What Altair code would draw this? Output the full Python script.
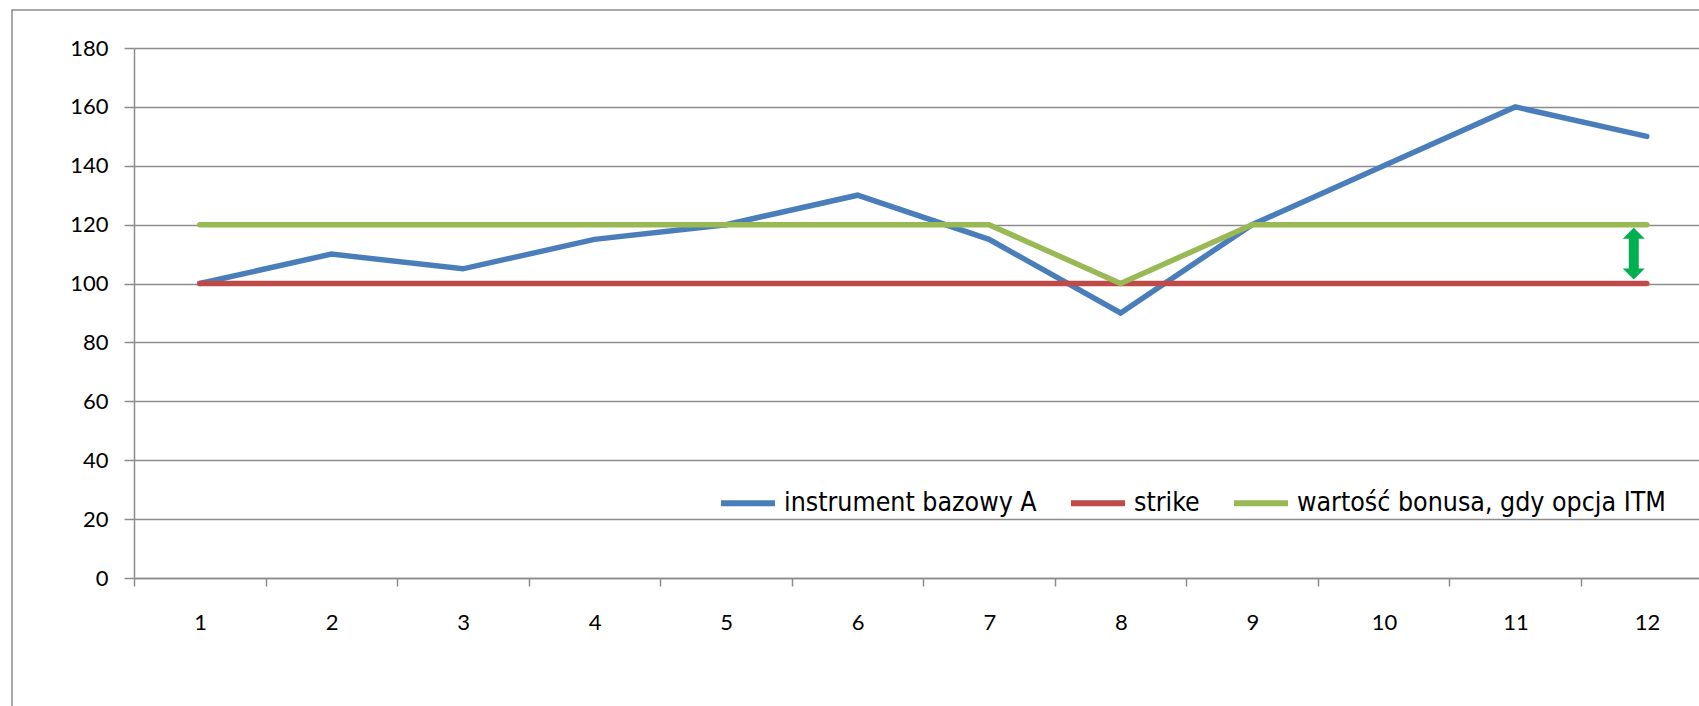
import altair as alt
import pandas as pd

# Periods on the x axis
periods = [1, 2, 3, 4, 5, 6, 7, 8, 9, 10, 11, 12]

# Series values
underlying = [100, 110, 105, 115, 120, 130, 115, 90, 120, 140, 160, 150]
strike = [100, 100, 100, 100, 100, 100, 100, 100, 100, 100, 100, 100]
bonus = [120, 120, 120, 120, 120, 120, 120, 100, 120, 120, 120, 120]

series_names = ["instrument bazowy A", "strike", "wartość bonusa, gdy opcja ITM"]
series_colors = ["#4A7EBB", "#BE4B48", "#98B954"]

# Category boundaries where the x ticks sit
tick_positions = [p - 0.5 for p in periods]
y_ticks = [0, 20, 40, 60, 80, 100, 120, 140, 160, 180]

rows = []
for name, values in zip(series_names, [underlying, strike, bonus]):
    for p, v in zip(periods, values):
        rows.append({"okres": p, "wartosc": v, "seria": name})
df = pd.DataFrame(rows)

# Bonus gap marker between strike and bonus level at the last period
arrow_df = pd.DataFrame({"okres": [periods[-1]], "dol": [strike[-1]], "gora": [bonus[-1]]})

GRID = "#8C8C8C"
x_scale = alt.Scale(domain=[0.5, 12.397], nice=False, zero=False)
y_scale = alt.Scale(domain=[0, 180], nice=False)
x_axis = alt.Axis(values=tick_positions, title=None, grid=False, tickSize=8,
                  labelExpr="datum.value + 0.5", labelOffset=66, labelPadding=26,
                  labelFlush=False, labelOverlap=False)
y_axis = alt.Axis(values=y_ticks, title=None, grid=True, tickSize=10, labelPadding=16)

LEGEND_FONT = "DejaVu Sans Condensed, Liberation Sans Narrow, Roboto"

lines = alt.Chart(df).mark_line(strokeWidth=5.5, strokeCap="round").encode(
    x=alt.X("okres:Q", scale=x_scale, axis=x_axis),
    y=alt.Y("wartosc:Q", scale=y_scale, axis=y_axis),
    color=alt.Color("seria:N", sort=series_names,
                    scale=alt.Scale(domain=series_names, range=series_colors),
                    legend=alt.Legend(
                        title=None, orient="none", legendX=584, legendY=425,
                        direction="horizontal", symbolType="stroke",
                        symbolStrokeWidth=6, symbolSize=2916, labelOffset=6,
                        columnPadding=22, labelFont=LEGEND_FONT,
                        labelFontSize=26.5, labelColor="black", labelLimit=600)),
    order=alt.Order("okres:Q"),
    detail="seria:N",
)

ARROW = "#00B050"
shaft = alt.Chart(arrow_df).mark_rule(color=ARROW, strokeWidth=10, xOffset=-13,
                                     yOffset=12, y2Offset=-14).encode(
    x=alt.X("okres:Q", scale=x_scale, axis=x_axis),
    y=alt.Y("gora:Q", scale=y_scale, axis=y_axis),
    y2="dol:Q",
)
head_up = alt.Chart(arrow_df).mark_point(
    shape="M0,0L1,1L-1,1Z", size=484, filled=True, opacity=1, color=ARROW,
    strokeWidth=0, xOffset=-13, yOffset=3).encode(
    x=alt.X("okres:Q", scale=x_scale, axis=x_axis),
    y=alt.Y("gora:Q", scale=y_scale, axis=y_axis),
)
head_down = alt.Chart(arrow_df).mark_point(
    shape="M0,0L1,-1L-1,-1Z", size=484, filled=True, opacity=1, color=ARROW,
    strokeWidth=0, xOffset=-13, yOffset=-4).encode(
    x=alt.X("okres:Q", scale=x_scale, axis=x_axis),
    y=alt.Y("dol:Q", scale=y_scale, axis=y_axis),
)

# Outer chart frame
frame = alt.Chart(pd.DataFrame({"k": [0]})).mark_rect(
    fill=None, stroke=GRID, strokeWidth=1.5).encode(
    x=alt.value(-122), x2=alt.value(1800), y=alt.value(-38), y2=alt.value(800))

chart = alt.layer(lines, shaft, head_up, head_down, frame).properties(
    width=1565, height=530,
    autosize=alt.AutoSizeParams(type="none"),
    padding={"left": 134, "top": 48, "right": 0, "bottom": 128},
    background="white",
).configure_view(stroke=None).configure_axis(
    gridColor=GRID, gridWidth=1.5, domainColor=GRID, domainWidth=1.5,
    tickColor=GRID, tickWidth=1.5, labelColor="black", labelFont="Lato",
    labelFontSize=22,
)

chart.save("out.html", embed_options={"renderer": "svg", "actions": False})
